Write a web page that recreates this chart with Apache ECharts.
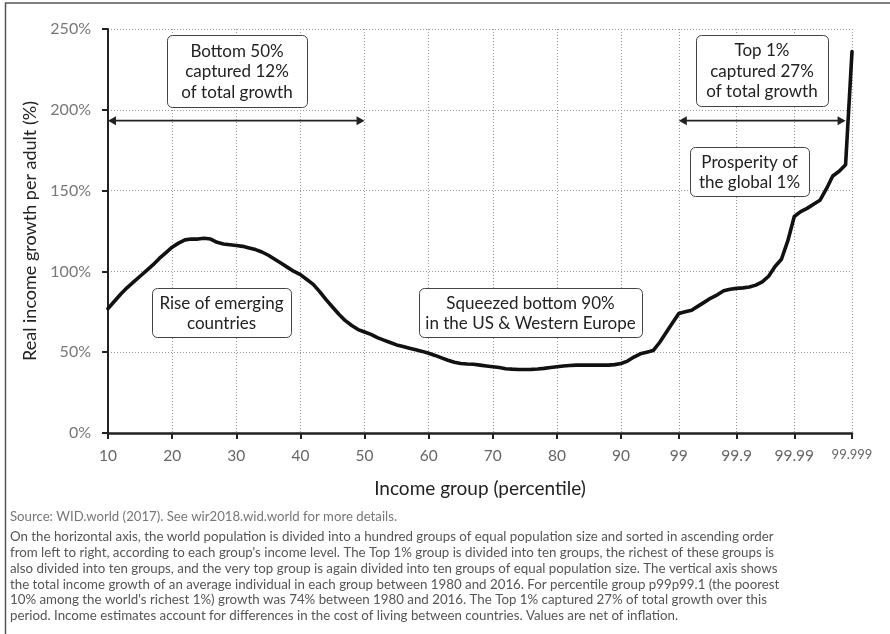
<!DOCTYPE html>
<html><head><meta charset="utf-8">
<script src="https://cdn.jsdelivr.net/npm/echarts@6/dist/echarts.min.js"></script>
<style>html,body{margin:0;padding:0;background:#fff}#c{width:890px;height:634px}</style>
</head><body><div id="c"></div>
<script>
// Income groups (percentile), p10 ... p99.999
const categories = [
 '10','11','12','13','14','15','16','17','18','19',
 '20','21','22','23','24','25','26','27','28','29',
 '30','31','32','33','34','35','36','37','38','39',
 '40','41','42','43','44','45','46','47','48','49',
 '50','51','52','53','54','55','56','57','58','59',
 '60','61','62','63','64','65','66','67','68','69',
 '70','71','72','73','74','75','76','77','78','79',
 '80','81','82','83','84','85','86','87','88','89',
 '90','91','92','93','94','95','96','97','98','99',
 '99.1','99.2','99.3','99.4','99.5','99.6','99.7','99.8','99.9',
 '99.91','99.92','99.93','99.94','99.95','99.96','99.97','99.98','99.99',
 '99.991','99.992','99.993','99.994','99.995','99.996','99.997','99.998','99.999'
];
// Real income growth per adult 1980-2016 (%)
const growth = [
 77,81.5,86,90,93.5,97,100.5,104,108,111.5,
 115,117.5,119.5,120,120,120.5,120,118,117,116.5,
 116,115.5,114.5,113.5,112,110,107.5,105,102.5,100,
 98,95,92,87.5,82.5,78,73.5,69.5,66.5,64,
 62.5,61,59,57.5,56,54.5,53.5,52.5,51.5,50.5,
 49.3,48,46.5,45,43.8,43,42.7,42.5,42,41.5,
 41,40.5,39.8,39.5,39.3,39.3,39.4,39.6,40,40.5,
 41,41.5,41.8,42,42,42,42,42,42,42.3,
 43,44.5,47,49,50,51,56,62,68,74,
 75,76,78.5,81,83.5,85.5,88,89,89.5,
 89.8,90.3,91.5,93.5,97,103,107.5,119,134,
 137,139,141.5,144,151,159,162,166,236
];
const tickLabels = ['10','20','30','40','50','60','70','80','90','99','99.9','99.99','99.999'];
const yMin = 0, yMax = 250, yStep = 50;
const arrowLevel = 193.3;
const arrowSpans = [['10','50'],['99','99.998']];
const boxes = [
 {text:'Bottom 50%\ncaptured 12%\nof total growth', x:167, y:35, w:140, h:72},
 {text:'Top 1%\ncaptured 27%\nof total growth', x:696, y:35, w:132, h:71},
 {text:'Prosperity of\nthe global 1%', x:690, y:147, w:119, h:49},
 {text:'Rise of emerging\ncountries', x:152, y:288, w:139, h:49},
 {text:'Squeezed bottom 90%\nin the US & Western Europe', x:419, y:288, w:223, h:49}
];
const sourceText = 'Source: WID.world (2017). See wir2018.wid.world for more details.';
const noteLines = [
 "On the horizontal axis, the world population is divided into a hundred groups of equal population size and sorted in ascending order",
 "from left to right, according to each group's income level. The Top 1% group is divided into ten groups, the richest of these groups is",
 "also divided into ten groups, and the very top group is again divided into ten groups of equal population size. The vertical axis shows",
 "the total income growth of an average individual in each group between 1980 and 2016. For percentile group p99p99.1 (the poorest",
 "10% among the world's richest 1%) growth was 74% between 1980 and 2016. The Top 1% captured 27% of total growth over this",
 "period. Income estimates account for differences in the cost of living between countries. Values are net of inflation."
];

const FONT = 'Lato, "Open Sans", sans-serif';
const tickSet = new Set(tickLabels);
const isTick = (i, v) => tickSet.has(v);
const dotted = {color:'#9a9a9a', type:[1,2], width:1};

const chart = echarts.init(document.getElementById('c'));

const staticGraphics = [
 {type:'rect', z:0, silent:true, shape:{x:5.5, y:3, width:900, height:700}, style:{fill:'none', stroke:'#555', lineWidth:1.5}},
 {type:'text', x:10, y:517, style:{text:sourceText, fontFamily:FONT, fontSize:13.2, fill:'#777', verticalAlign:'middle'}}
];
noteLines.forEach((t, i) => staticGraphics.push({type:'text', x:10, y:537 + i*15.8, style:{text:t, fontFamily:FONT, fontSize:13.3, fill:'#555', verticalAlign:'middle'}}));
boxes.forEach(b => {
 staticGraphics.push({type:'rect', z:10, shape:{x:b.x+0.5, y:b.y+0.5, width:b.w, height:b.h, r:5}, style:{fill:'#fff', stroke:'#444', lineWidth:1}});
 staticGraphics.push({type:'text', z:11, x:b.x + b.w/2, y:b.y + b.h/2 + 1, style:{text:b.text, fontFamily:FONT, fontSize:17, lineHeight:20.5, fill:'#222', align:'center', verticalAlign:'middle'}});
});

chart.setOption({
 animation:false,
 grid:{left:108, top:29, right:38, bottom:201},
 xAxis:{
  type:'category', data:categories, boundaryGap:false,
  name:'Income group (percentile)', nameLocation:'middle', nameGap:46,
  nameTextStyle:{fontFamily:FONT, fontSize:19, color:'#222'},
  axisLine:{lineStyle:{color:'#222', width:2.5}},
  axisTick:{show:true, length:6, interval:isTick, lineStyle:{color:'#222', width:2}},
  axisLabel:{interval:isTick, margin:15, fontFamily:FONT, fontSize:15.5, color:'#666',
   formatter: v => v === '99.999' ? '{s|' + v + '}' : v,
   rich:{s:{fontFamily:FONT, fontSize:13, color:'#666'}}},
  splitLine:{show:true, interval:isTick, lineStyle:dotted}
 },
 yAxis:{
  type:'value', min:yMin, max:yMax, interval:yStep,
  name:'Real income growth per adult (%)', nameLocation:'middle', nameGap:64,
  nameTextStyle:{fontFamily:FONT, fontSize:18, color:'#222'},
  axisLine:{show:true, lineStyle:{color:'#222', width:2}},
  axisTick:{show:true, length:6, lineStyle:{color:'#222', width:2}},
  axisLabel:{formatter:'{value}%', margin:17, fontFamily:FONT, fontSize:16, color:'#777'},
  splitLine:{show:true, lineStyle:dotted}
 },
 series:[{type:'line', data:growth, symbol:'none', z:5,
  lineStyle:{color:'#111', width:3.6, join:'round', cap:'round'}}],
 graphic: staticGraphics
});

// arrows placed through the chart's own scales
const arrowGraphics = [];
const head = 8, half = 4.5;
arrowSpans.forEach(([a, b]) => {
 const p1 = chart.convertToPixel({gridIndex:0}, [categories.indexOf(a), arrowLevel]);
 const p2 = chart.convertToPixel({gridIndex:0}, [categories.indexOf(b), arrowLevel]);
 const y = p1[1];
 arrowGraphics.push({type:'line', z:12, shape:{x1:p1[0]+head-1, y1:y, x2:p2[0]-head+1, y2:y}, style:{stroke:'#222', lineWidth:1.8}});
 arrowGraphics.push({type:'polygon', z:12, shape:{points:[[p1[0], y],[p1[0]+head, y-half],[p1[0]+head, y+half]]}, style:{fill:'#222'}});
 arrowGraphics.push({type:'polygon', z:12, shape:{points:[[p2[0], y],[p2[0]-head, y-half],[p2[0]-head, y+half]]}, style:{fill:'#222'}});
});
chart.setOption({graphic: staticGraphics.concat(arrowGraphics)});
</script>
</body></html>
